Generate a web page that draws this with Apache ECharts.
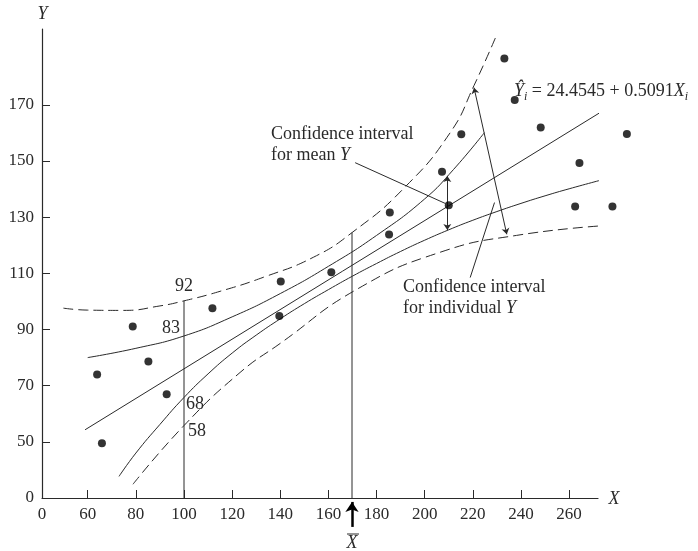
<!DOCTYPE html>
<html>
<head>
<meta charset="utf-8">
<script src="https://cdn.jsdelivr.net/npm/echarts@6/dist/echarts.min.js"></script>
<style>
  html, body { margin: 0; padding: 0; background: #fff; }
  #main { width: 698px; height: 551px; }
</style>
</head>
<body>
<div id="main"></div>
<script>
// ticks and labels (the "0" sits at the broken origin of each axis)
var xTicks = [60, 80, 100, 120, 140, 160, 180, 200, 220, 240, 260]
var yTicks = [50, 70, 90, 110, 130, 150, 170]
var xOrigin = 41
var yOrigin = 30

// sample points
var pointX = [63.9, 65.9, 78.7, 85.2, 92.8, 111.8, 140.2, 139.6, 161.2, 185.5, 185.2,
              207.2, 210.0, 215.2, 233.1, 237.4, 248.2, 264.3, 262.5, 278.0, 284.0]
var pointY = [74.0, 49.5, 91.1, 78.6, 66.9, 97.6, 107.1, 94.8, 110.4, 131.7, 123.8,
              146.2, 134.2, 159.5, 186.5, 171.7, 161.9, 149.3, 133.8, 133.8, 159.6]

// fitted line  Y = 24.4545 + 0.5091X, as drawn
var fitX = [58.9, 277.7]
var fitY = [54.3, 169.8]

// band for mean Y (solid)
var meanUpX = [60, 80, 100, 120, 140, 160, 180, 200, 212, 224.8]
var meanUpY = [80.0, 83.3, 87.7, 94.5, 102.8, 112.5, 123.5, 136.5, 147.0, 160.1]
var meanLoX = [73, 80, 90, 100, 110, 120, 130, 140, 150, 160, 170,
               180, 190, 200, 210, 220, 230, 240, 250, 260, 275]
var meanLoY = [37.7, 46.0, 56.2, 65.8, 74.2, 81.6, 88.0, 93.8, 99.2, 104.2, 109.0,
               113.5, 117.8, 121.8, 125.5, 128.9, 132.0, 134.9, 137.6, 140.1, 143.6]

// band for individual Y (dashed)
var indUpX = [49.9, 60, 75, 90, 100, 115, 133, 153.7, 169.8, 191, 210.6, 220.5, 230]
var indUpY = [97.6, 96.9, 96.8, 98.4, 100.2, 103.6, 108.6, 115.7, 124.5, 140.0, 160.1, 176.9, 195.1]
var indLoX = [78.8, 100, 123.3, 139.9, 171.8, 206.4, 239.6, 276.7]
var indLoY = [34.9, 55.8, 74.7, 85.0, 104.3, 117.5, 123.7, 127.1]

// guide lines, arrows and callouts
var x100Line = [[100, 30], [100, 100.2]]
var xBar = 169.8
var xBarLine = [[xBar, 30], [xBar, 124.5]]
var xBarArrow = [[xBar, 19.7], [xBar, 28.6]]
var meanArrow = [[209.4, 125.4], [209.4, 144.7]]
var indArrow = [[234.1, 123.9], [220.5, 176.1]]
var meanCallout = [[171.1, 149.4], [208.5, 134.9]]
var indCallout = [[218.9, 108.5], [229.0, 135.2]]

var SERIF = '"Liberation Serif", "Times New Roman", serif'
var INK = '#2a2a2a'

var zip = function (xs, ys) {
    var res = []
    for (var i = 0; i < xs.length; i++) {
        res.push([xs[i], ys[i]])
    }
    return res
}

var curve = function (xs, ys, dashed) {
    return {
        type: 'line',
        data: zip(xs, ys),
        smooth: 0.5,
        showSymbol: false,
        symbol: 'none',
        clip: false,
        silent: true,
        lineStyle: { color: INK, width: 1, type: dashed ? [10, 5] : 'solid' },
    }
}

var segment = function (pts) {
    return {
        type: 'line',
        data: pts,
        symbol: 'none',
        clip: false,
        silent: true,
        lineStyle: { color: INK, width: 1 },
    }
}

var arrow = function (pts, both, width, size) {
    return {
        type: 'lines',
        coordinateSystem: 'cartesian2d',
        clip: false,
        silent: true,
        symbol: both ? ['arrow', 'arrow'] : ['none', 'arrow'],
        symbolSize: size,
        lineStyle: { color: both ? INK : '#000', width: width, opacity: 1, curveness: 0 },
        data: [{ coords: pts }],
    }
}

var txt = function (x, y, text, extra) {
    var style = {
        text: text,
        x: 0,
        y: 0,
        fill: INK,
        fontSize: 18,
        fontFamily: SERIF,
        align: 'center',
        verticalAlign: 'middle',
    }
    for (var k in extra) {
        style[k] = extra[k]
    }
    return { type: 'text', x: x, y: y, style: style, z: 100 }
}

var rich = {
    it: { fontStyle: 'italic', fontSize: 18, fontFamily: SERIF, fill: INK },
    sub: { fontStyle: 'italic', fontSize: 12, fontFamily: SERIF, fill: INK, verticalAlign: 'bottom', lineHeight: 12 },
}

var chart = echarts.init(document.getElementById('main'))

var option = {
    animation: false,
    backgroundColor: '#fff',
    grid: { left: 42, right: 100, top: 29, bottom: 53 },
    xAxis: {
        type: 'value',
        min: xOrigin,
        max: 272,
        splitLine: { show: false },
        axisLine: { lineStyle: { color: INK, width: 1.2 } },
        axisTick: { inside: true, length: 8, customValues: xTicks, lineStyle: { color: INK } },
        axisLabel: {
            customValues: [xOrigin].concat(xTicks),
            formatter: function (v) { return v === xOrigin ? '0' : String(v) },
            color: INK, fontSize: 17, fontFamily: SERIF, margin: 8,
        },
    },
    yAxis: {
        type: 'value',
        min: yOrigin,
        max: 197,
        splitLine: { show: false },
        axisLine: { lineStyle: { color: INK, width: 1.2 } },
        axisTick: { inside: true, length: 8, customValues: yTicks, lineStyle: { color: INK } },
        axisLabel: {
            customValues: [yOrigin].concat(yTicks),
            formatter: function (v) { return v === yOrigin ? '0' : String(v) },
            color: INK, fontSize: 17, fontFamily: SERIF, margin: 8,
        },
    },
    series: [
        curve(indUpX, indUpY, true),
        curve(indLoX, indLoY, true),
        curve(meanUpX, meanUpY, false),
        curve(meanLoX, meanLoY, false),
        segment(zip(fitX, fitY)),
        segment(x100Line),
        segment(xBarLine),
        segment(meanCallout),
        segment(indCallout),
        arrow(meanArrow, true, 1, 6),
        arrow(indArrow, true, 1, 6),
        arrow(xBarArrow, false, 2.5, [8, 10]),
        {
            type: 'scatter',
            data: zip(pointX, pointY),
            symbolSize: 8,
            clip: false,
            itemStyle: { color: '#000' },
            z: 10,
        },
    ],
    graphic: [
        txt(42.5, 14, 'Y', { fontStyle: 'italic' }),
        txt(614, 499, 'X', { fontStyle: 'italic' }),
        txt(352, 543, 'X', { fontStyle: 'italic' }),
        { type: 'line', shape: { x1: 347, y1: 534, x2: 359, y2: 534 }, style: { stroke: INK, lineWidth: 1 } },
        txt(514, 91, '{it|Ŷ}{sub|i} = 24.4545 + 0.5091{it|X}{sub|i}',
            { align: 'left', lineHeight: 24, rich: rich }),
        txt(271, 123.5, 'Confidence interval\nfor mean {it|Y}',
            { align: 'left', verticalAlign: 'top', lineHeight: 21, rich: rich }),
        txt(403, 276.5, 'Confidence interval\nfor individual {it|Y}',
            { align: 'left', verticalAlign: 'top', lineHeight: 21, rich: rich }),
        txt(184, 286, '92'),
        txt(171, 328, '83'),
        txt(195, 404, '68'),
        txt(197, 431.5, '58'),
    ],
}

chart.setOption(option)
</script>
</body>
</html>
